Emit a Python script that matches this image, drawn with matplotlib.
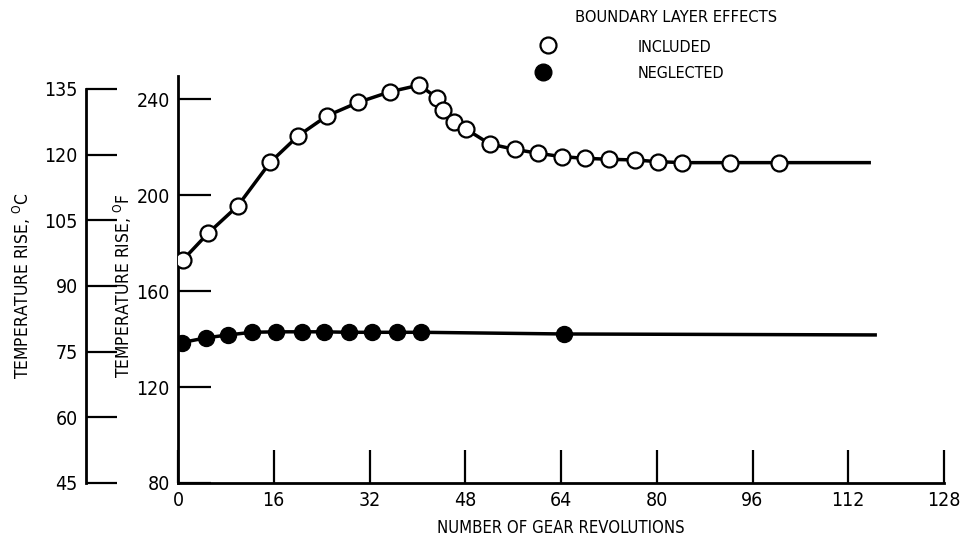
import matplotlib
matplotlib.use("Agg")
import matplotlib.pyplot as plt
from matplotlib import font_manager
from matplotlib.lines import Line2D

# pick a narrow lettering font if one is around
fonts = font_manager.fontManager.ttflist
names = {f.name for f in fonts}
if 'Liberation Sans Narrow' in names:
    plt.rcParams['font.family'] = ['Liberation Sans Narrow', 'DejaVu Sans']
elif any(f.name == 'DejaVu Sans' and 'condensed' in str(f.stretch) for f in fonts):
    plt.rcParams['font.family'] = ['DejaVu Sans']
    plt.rcParams['font.stretch'] = 'condensed'
else:
    plt.rcParams['font.family'] = ['Liberation Sans', 'DejaVu Sans']

# boundary layer effects included (open circles)
inc_rev = [0.8, 5.0, 10.0, 15.4, 20.1, 24.9, 30.1, 35.4, 40.3, 43.3, 44.3, 46.1,
           48.1, 52.1, 56.3, 60.2, 64.1, 68.0, 72.0, 76.4, 80.2, 84.3, 92.2, 100.4]
inc_temp = [172.9, 184.0, 195.5, 213.6, 224.7, 233.0, 238.6, 243.0, 245.8, 240.5, 235.4, 230.3,
            227.5, 221.3, 219.0, 217.4, 216.0, 215.3, 214.9, 214.6, 213.9, 213.5, 213.5, 213.5]
inc_end = (115.5, 213.5)

# boundary layer effects neglected (filled circles)
neg_rev = [0.6, 4.7, 8.4, 12.3, 16.4, 20.7, 24.4, 28.5, 32.5, 36.6, 40.6, 64.5]
neg_temp = [138.5, 140.5, 141.7, 142.8, 143.0, 143.0, 143.0, 142.8, 142.8, 142.8, 142.8, 142.1]
neg_end = (116.5, 141.7)

x_ticks = [0, 16, 32, 48, 64, 80, 96, 112, 128]
f_ticks = [80, 120, 160, 200, 240]
c_ticks = [45, 60, 75, 90, 105, 120, 135]

W, H = 965, 539
fig = plt.figure(figsize=(W / 100, H / 100), dpi=100)

ax = fig.add_axes([178 / W, 1 - 483 / H, (944 - 178) / W, (483 - 76) / H])
ax.plot([0] + inc_rev + [inc_end[0]], [inc_temp[0] - 1.5] + inc_temp + [inc_end[1]],
        color='black', lw=2.5, zorder=2)
ax.plot(inc_rev, inc_temp, ls='none', marker='o', ms=11.5, mfc='white', mec='black',
        mew=1.6, zorder=3)
ax.plot(neg_rev + [neg_end[0]], neg_temp + [neg_end[1]], color='black', lw=2.5, zorder=2)
ax.plot(neg_rev, neg_temp, ls='none', marker='o', ms=11.5, mfc='black', mec='black', zorder=3)

ax.set_xlim(0, 128)
ax.set_ylim(80, 249.6)
ax.set_xticks(x_ticks)
ax.set_yticks(f_ticks)
for s in ['top', 'right']:
    ax.spines[s].set_visible(False)
for s in ['left', 'bottom']:
    ax.spines[s].set_linewidth(2)
ax.tick_params(direction='in', length=24, width=1.6, labelsize=14, pad=6)
ax.set_xlabel('NUMBER OF GEAR REVOLUTIONS', fontsize=12, labelpad=6)
ax.set_ylabel(r'TEMPERATURE RISE, $^{\rm O}$F', fontsize=12.5)
ax.yaxis.set_label_coords(134 / W, 1 - 286 / H, transform=fig.transFigure)

# celsius scale
axc = fig.add_axes([86 / W, 1 - 483 / H, 0.0001, (483 - 89) / H])
axc.set_ylim(45, 135)
axc.set_yticks(c_ticks)
axc.set_xticks([])
for s in ['top', 'right', 'bottom']:
    axc.spines[s].set_visible(False)
axc.spines['left'].set_linewidth(2)
axc.tick_params(axis='y', direction='in', length=22, width=1.6, labelsize=14, pad=6)
axc.set_ylabel(r'TEMPERATURE RISE, $^{\rm O}$C', fontsize=12.5)
axc.yaxis.set_label_coords(33 / W, 1 - 286 / H, transform=fig.transFigure)

# legend
fig.text(676 / W, 1 - 17 / H, 'BOUNDARY LAYER EFFECTS', ha='center', va='center', fontsize=11.8)
fig.add_artist(Line2D([548 / W], [1 - 45 / H], transform=fig.transFigure, marker='o', ms=11.5,
                      mfc='white', mec='black', mew=1.6))
fig.add_artist(Line2D([543 / W], [1 - 72 / H], transform=fig.transFigure, marker='o', ms=12,
                      mfc='black', mec='black'))
fig.text(638 / W, 1 - 47 / H, 'INCLUDED', ha='left', va='center', fontsize=11.5)
fig.text(638 / W, 1 - 73 / H, 'NEGLECTED', ha='left', va='center', fontsize=11.5)

fig.savefig('out.png', dpi=100)
